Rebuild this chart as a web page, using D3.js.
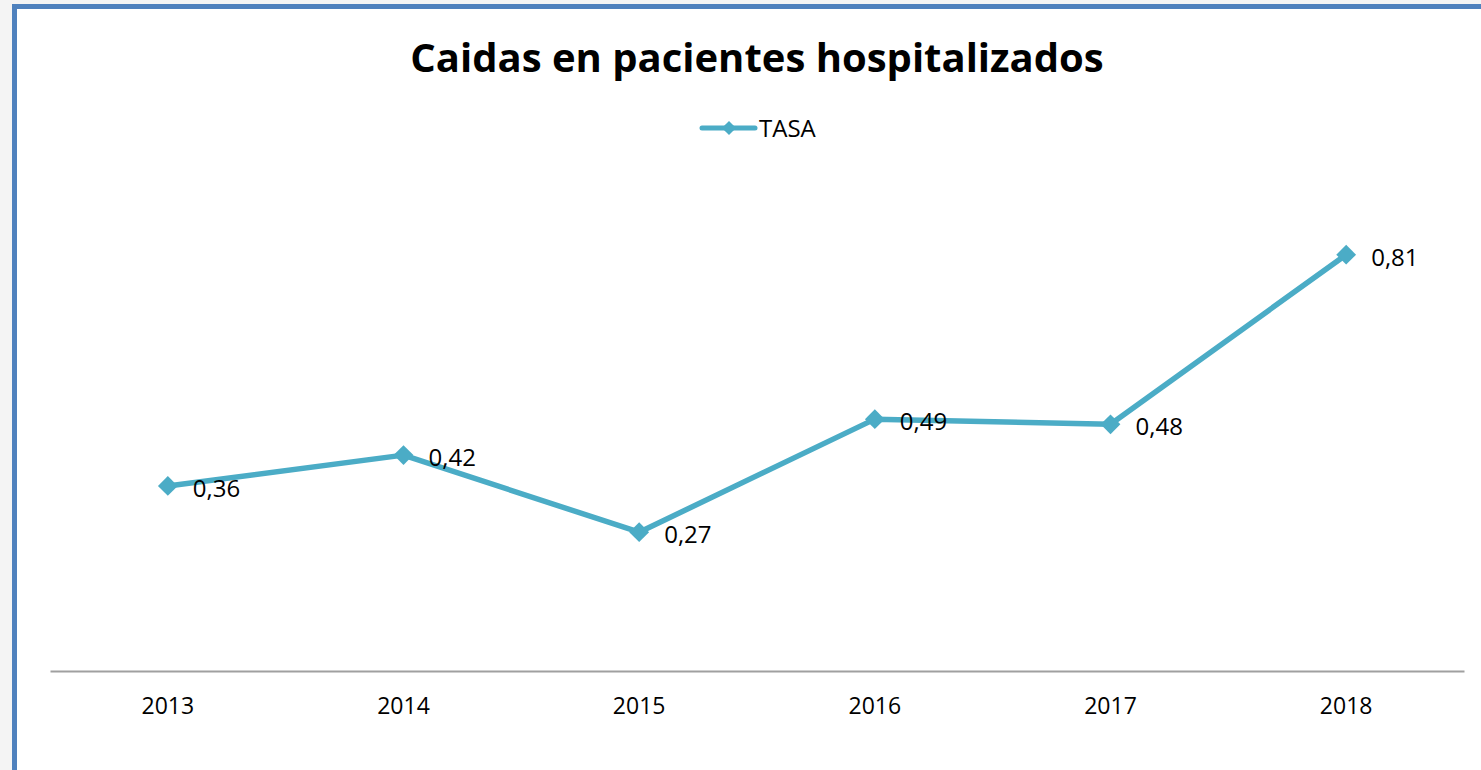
<!DOCTYPE html>
<html><head><meta charset="utf-8">
<script src="https://cdn.jsdelivr.net/npm/d3@7"></script>
<style>
html,body{margin:0;padding:0;background:#f4f4f4;}
svg{display:block;}
</style></head>
<body>
<svg id="chart" width="1481" height="770"></svg>
<script>
const categories = ["2013","2014","2015","2016","2017","2018"];
const values = [0.36, 0.42, 0.27, 0.49, 0.48, 0.81];
const labels = ["0,36","0,42","0,27","0,49","0,48","0,81"];
const seriesName = "TASA";
const title = "Caidas en pacientes hospitalizados";

const svg = d3.select("#chart");
const color = "#4BACC6";
const font = "'Open Sans', sans-serif";

// frame
svg.append("rect").attr("x",14.5).attr("y",6.5).attr("width",1481).attr("height",800)
  .attr("fill","#fff").attr("stroke","#4F81BD").attr("stroke-width",5);

const x = d3.scaleBand().domain(categories).range([50,1464]);
const y = d3.scaleLinear().domain([0,1]).range([671,157]);

// axis
const xAxis = d3.axisBottom(x).tickSize(0).tickPadding(0);
const gx = svg.append("g").attr("transform",`translate(0,${y(0)})`).call(xAxis);
gx.select(".domain").attr("stroke","#a0a0a0").attr("stroke-width",2);
gx.selectAll("text").attr("font-family",font).attr("font-size",23).attr("fill","#000")
  .attr("dy",0).attr("y",43);

// title
svg.append("text").attr("x",757).attr("y",72).attr("text-anchor","middle")
  .attr("font-family",font).attr("font-weight","bold").attr("font-size",40).text(title);

// legend
const lg = svg.append("g");
lg.append("line").attr("x1",702).attr("x2",755).attr("y1",128).attr("y2",128)
  .attr("stroke",color).attr("stroke-width",5).attr("stroke-linecap","round");
lg.append("path").attr("d",d3.symbol(d3.symbolSquare,100)())
  .attr("transform","translate(729,128) rotate(45)").attr("fill",color);
lg.append("text").attr("x",759).attr("y",137).attr("font-family",font).attr("font-size",24)
  .text(seriesName);

const cx = d => x(d)+x.bandwidth()/2;
const data = categories.map((c,i)=>({c, v:values[i], l:labels[i]}));

svg.append("path").datum(data)
  .attr("d", d3.line().x(d=>cx(d.c)).y(d=>y(d.v)))
  .attr("fill","none").attr("stroke",color).attr("stroke-width",5.5).attr("stroke-linejoin","round");

svg.selectAll(".mk").data(data).enter().append("path")
  .attr("d", d3.symbol(d3.symbolSquare,196)())
  .attr("transform", d=>`translate(${cx(d.c)},${y(d.v)}) rotate(45)`)
  .attr("fill",color);

svg.selectAll(".lb").data(data).enter().append("text")
  .attr("x", d=>cx(d.c)+25).attr("y", d=>y(d.v)+11)
  .attr("font-family",font).attr("font-size",24).attr("fill","#000")
  .text(d=>d.l);
</script>
</body></html>
